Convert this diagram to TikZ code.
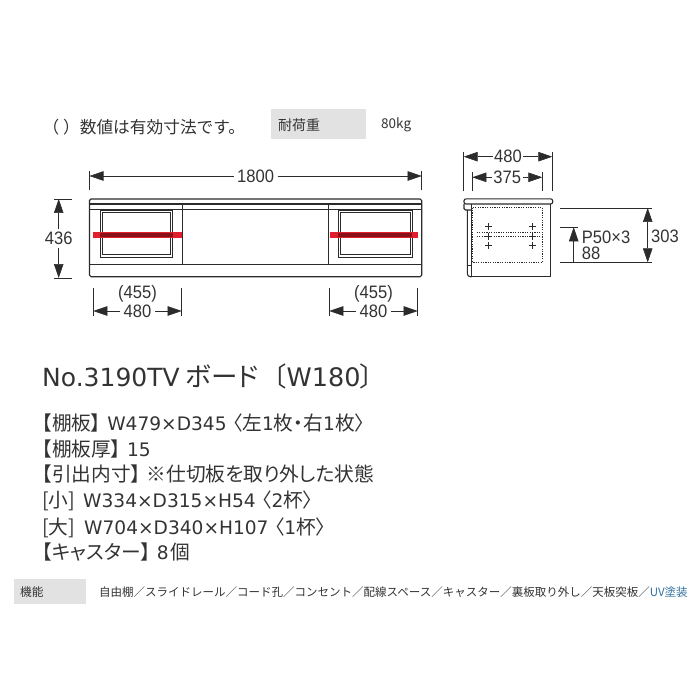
\documentclass[tikz,border=0pt]{standalone}
\usepackage{fontspec}
\usepackage{tikz}
\usetikzlibrary{arrows.meta}
\setmainfont{Noto Sans CJK JP}
\newfontfamily\palt[RawFeature=+palt]{Noto Sans CJK JP}
\newfontfamily\lat{DejaVu Sans}
\newfontfamily\dimfont[FakeStretch=0.92]{Liberation Sans}
\newcommand{\gapw}{\hspace{6pt}}
\newcommand{\latt}{\lat\fontsize{18.6}{20}\selectfont}
\definecolor{ink}{HTML}{2B2B2B}
\definecolor{txt}{HTML}{333333}
\definecolor{greybox}{HTML}{E2E2E2}
\definecolor{uvblue}{HTML}{2F6F9F}
\definecolor{redbar}{HTML}{E0202C}
\definecolor{darkred}{HTML}{8A1018}
\tikzset{
  x=1pt,y=-1pt,
  body/.style={draw=ink,line width=1.1pt},
  thin body/.style={draw=ink,line width=0.8pt},
  ext/.style={draw=ink,line width=0.55pt},
  dimline/.style={draw=ink,line width=0.55pt,{Triangle[length=14pt,width=9.5pt]}-{Triangle[length=14pt,width=9.5pt]}},
  onearrow/.style={draw=ink,line width=0.55pt,-{Triangle[length=14pt,width=9.5pt]}},
  dimtext/.style={font=\dimfont\fontsize{18}{20}\selectfont,text=txt,inner sep=3.5pt,fill=white},
  bodytext/.style={font=\fontsize{18.5}{20}\selectfont,text=txt,anchor=west,inner sep=0pt},
  spectext/.style={font=\palt\fontsize{19.7}{21}\selectfont,text=txt,anchor=base west,inner sep=0pt},
  dash rect/.style={draw=ink,line width=0.5pt,dash pattern=on 1.2pt off 1.2pt},
  plus/.style={draw=ink,line width=0.6pt},
}
\begin{document}
\begin{tikzpicture}
\useasboundingbox (0,0) rectangle (700,700);
% header
\node[bodytext,font=\fontsize{16.7}{18}\selectfont] (note) at (42.5,127) {（ ）数値は有効寸法です。};
\fill[greybox] (271,109) rectangle (366,139);
\node[bodytext,font=\fontsize{14}{16}\selectfont] (load) at (278,125) {耐荷重};
\node[bodytext,font=\fontsize{13.5}{16}\selectfont] (kg) at (381,125) {80kg};
% front view
\draw[body,rounded corners=1.5pt] (89.5,276.7) -- (89.5,199) -- (421.7,199) -- (421.7,276.7) -- cycle;
\draw[body] (89.5,204) -- (421.7,204);
\draw[thin body] (89.5,209.3) -- (421.7,209.3);
\draw[body] (89.5,264.3) -- (421.7,264.3);
\draw[body] (182.7,204) -- (182.7,264.3);
\draw[body] (328.3,204) -- (328.3,264.3);
\draw[thin body] (100,210.3) rectangle (172.7,257.3);
\draw[ext] (102.3,212.3) rectangle (170,254.7);
\draw[thin body] (338.3,210.3) rectangle (412,257.3);
\draw[ext] (340.3,212.3) rectangle (410,254.7);
\fill[redbar] (93.3,232.3) rectangle (181.7,237.7);
\fill[redbar] (330,232.3) rectangle (417.7,237.7);
\fill[darkred] (100,233.5) rectangle (172.7,236.6);
\fill[darkred] (338.3,233.5) rectangle (412,236.6);
% 1800
\coordinate (a1) at (89.5,176); \coordinate (a2) at (421.7,176);
\draw[ext] (89.5,171.5) -- (89.5,190);
\draw[ext] (421.7,171.5) -- (421.7,190);
\draw[dimline] (a1) -- (a2) node[midway,dimtext] (t1800) {1800};
% 436
\coordinate (b1) at (58.7,199); \coordinate (b2) at (58.7,278);
\draw[ext] (54,199) -- (72,199);
\draw[ext] (54,278) -- (72,278);
\draw[dimline] (b1) -- (b2) node[midway,dimtext] (t436) {436};
% left 480
\coordinate (c1) at (93.3,311); \coordinate (c2) at (181.7,311);
\draw[ext] (93.3,288) -- (93.3,316);
\draw[ext] (181.7,288) -- (181.7,316);
\draw[dimline] (c1) -- (c2) node[midway,dimtext] (t480a) {480};
\node[dimtext,fill=none,inner sep=0pt] (t455a) at (137.5,293.5) {(455)};
% right 480
\coordinate (d1) at (329.3,311); \coordinate (d2) at (417.7,311);
\draw[ext] (329.3,288) -- (329.3,316);
\draw[ext] (417.7,288) -- (417.7,316);
\draw[dimline] (d1) -- (d2) node[midway,dimtext] (t480b) {480};
\node[dimtext,fill=none,inner sep=0pt] (t455b) at (373.5,293.5) {(455)};
% side view
\draw[body,rounded corners=2pt] (464,204) -- (464,198.9) -- (552.7,198.9) -- (552.7,204) -- cycle;
\draw[body,rounded corners=1.5pt] (464,204) -- (464,210) -- (471.7,210);
\draw[body,rounded corners=3pt] (467.3,210) -- (467.3,276.7) -- (471.7,276.7);
\draw[body] (471.7,204) -- (471.7,276.7) -- (550.7,276.7) -- (550.7,204);
\draw[thin body] (467.3,265) -- (471.7,265);
\draw[dash rect] (472.7,207.7) rectangle (542.3,262.3);
\draw[dash rect] (476.7,232.7) -- (542.3,232.7);
\draw[dash rect] (476.7,236.7) -- (542.3,236.7);
\foreach \px in {488.3,532.3}{
  \foreach \py in {226.7,236.3,245.7}{
    \draw[plus] (\px-3.5,\py) -- (\px+3.5,\py);
    \draw[plus] (\px,\py-3.5) -- (\px,\py+3.5);
  }
}
% 480 side
\coordinate (e1) at (463.7,156.7); \coordinate (e2) at (552.3,156.7);
\draw[ext] (463.7,151.7) -- (463.7,190.7);
\draw[ext] (552.3,151.7) -- (552.3,190.7);
\draw[dimline] (e1) -- (e2) node[midway,dimtext,inner sep=1.5pt] (t480c) {480};
% 375
\coordinate (f1) at (472.3,177.3); \coordinate (f2) at (542.3,177.3);
\draw[ext] (472.3,172) -- (472.3,190.7);
\draw[ext] (542.3,172) -- (542.3,190.7);
\draw[dimline] (f1) -- (f2) node[midway,dimtext,inner sep=1.5pt] (t375) {375};
% 303
\coordinate (g1) at (647.7,208); \coordinate (g2) at (647.7,262.3);
\draw[ext] (560,208) -- (651.7,208);
\draw[ext] (560,262.3) -- (651.7,262.3);
\draw[dimline] (g1) -- (g2);
\node[dimtext,fill=none,inner sep=0pt] (t303) at (665,236) {303};
% P50 x 3
\coordinate (h1) at (573.7,262.3); \coordinate (h2) at (573.7,227.3);
\draw[ext] (560,227.3) -- (578,227.3);
\draw[onearrow] (h1) -- (h2);
\node[dimtext,fill=none,anchor=base west,inner sep=0pt,align=left,font=\dimfont\fontsize{18}{16}\selectfont] (tp50) at (581.7,259) {P50×3\\88};
% title and specification
\node[spectext,font=\palt\fontsize{26.5}{28}\selectfont] (title) at (42,386.5) {{\lat\fontsize{25}{28}\selectfont No.3190TV}\hspace{6pt}ボード\hspace{15pt}〔{\lat\fontsize{25.5}{28}\selectfont W180}〕};
\node[spectext] (s1) at (42,430) {【棚板】\gapw{\latt W479×D345}\gapw〈左{\latt 1}枚・右{\latt 1}枚〉};
\node[spectext] (s2) at (42,456) {【棚板厚】\gapw{\latt 15}};
\node[spectext] (s3) at (42,481) {【引出内寸】\gapw※仕切板を取り外した状態};
\node[spectext] (s4) at (42,507) {[小]\hspace{8pt}{\latt W334×D315×H54}\gapw〈{\latt 2}杯〉};
\node[spectext] (s5) at (42,534) {[大]\hspace{9pt}{\latt W704×D340×H107}\gapw〈{\latt 1}杯〉};
\node[spectext] (s6) at (42,559) {【キャスター】\gapw{\latt 8}\hspace{2pt}個};
% footer
\fill[greybox] (14,579) rectangle (86,604);
\node[bodytext,font=\fontsize{11.7}{13}\selectfont] (func) at (20,592) {機能};
\node[bodytext,font=\fontsize{11.5}{13}\selectfont] (funcs) at (99,592.5) {自由棚／スライドレール／コード孔／コンセント／配線スペース／キャスター／裏板取り外し／天板突板／\textcolor{uvblue}{UV塗装}};
\end{tikzpicture}
\end{document}
